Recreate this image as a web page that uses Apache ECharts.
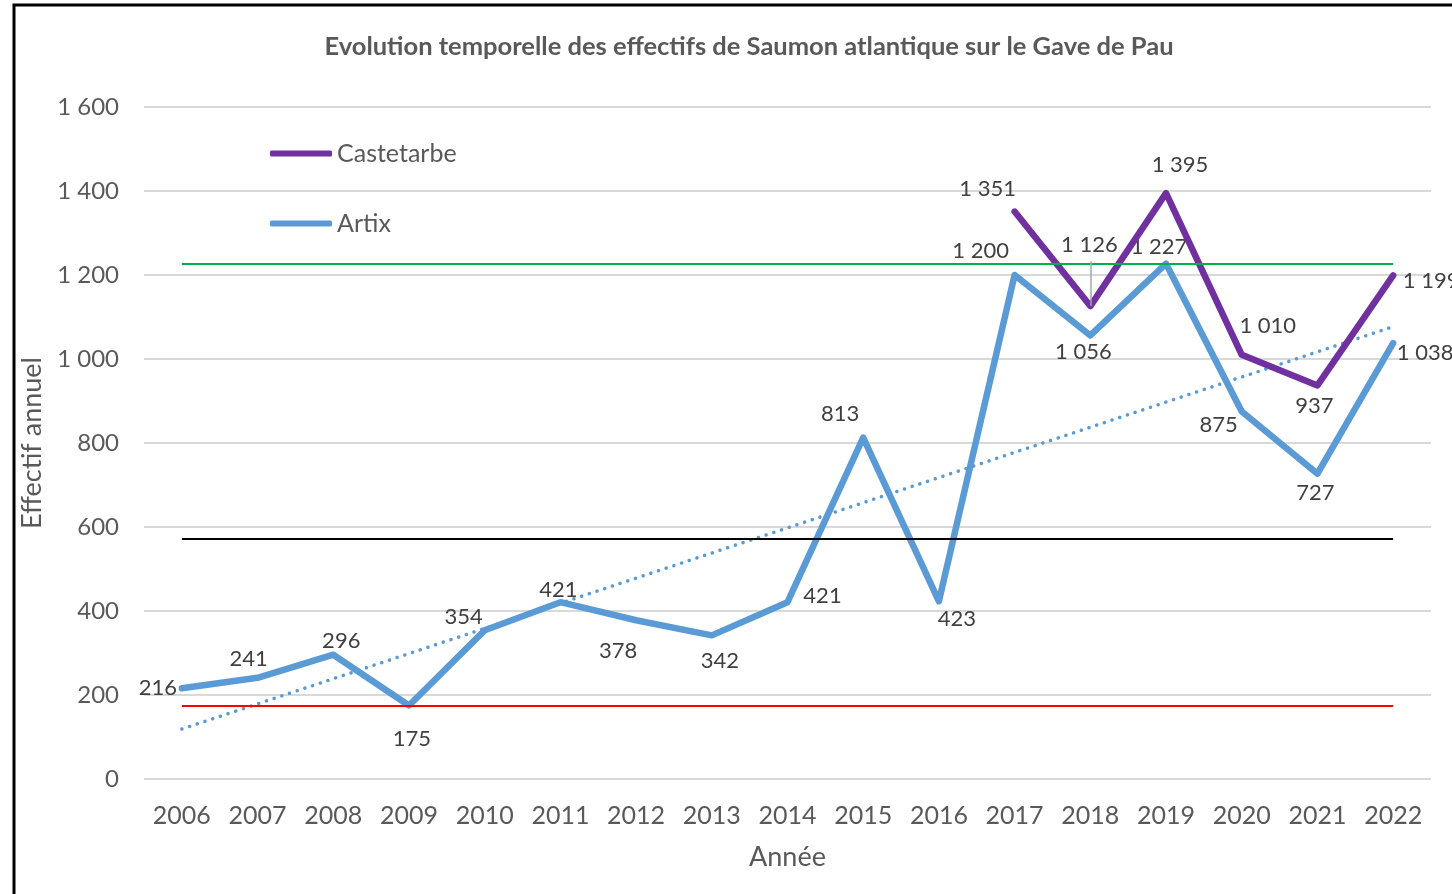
<!DOCTYPE html>
<html>
<head>
<meta charset="utf-8">
<script src="https://cdn.jsdelivr.net/npm/echarts@6/dist/echarts.min.js"></script>
<style>
  html, body { margin: 0; padding: 0; background: #fff; }
  #chart { width: 1452px; height: 894px; }
</style>
</head>
<body>
<div id="chart"></div>
<script>
// données
var years = ['2006', '2007', '2008', '2009', '2010', '2011', '2012', '2013', '2014',
  '2015', '2016', '2017', '2018', '2019', '2020', '2021', '2022'];
var artix = [216, 241, 296, 175, 354, 421, 378, 342, 421, 813, 423, 1200, 1056, 1227, 875, 727, 1038];
var castetarbe = [null, null, null, null, null, null, null, null, null, null, null,
  1351, 1126, 1395, 1010, 937, 1199];
// tendance linéaire (Artix) : valeurs aux extrémités
var trendStart = 119;
var trendEnd = 1077;
// lignes horizontales de référence
var refValues = [1227, 572, 175];
var refColors = ['#00B050', '#000000', '#FF0000'];
var yTicks = [0, 200, 400, 600, 800, 1000, 1200, 1400, 1600];

// décalages des étiquettes (px, par rapport au point)
var artixOffsets = [[-24, 0], [-9, -19], [8, -14], [3, 33], [-21, -13], [-2, -12], [-18, 31], [8, 26],
  [35, -6], [-23, -24], [18, 18], [-34, -24], [-7, 16], [-7, -17], [-23, 13], [-2, 19], [32, 10]];
var castOffsets = [[-27, -23], [-1, -61], [14, -28], [26, -29], [-3, 20], [38, 5]];

function fmt(v) {
  return String(v).replace(/\B(?=(\d{3})+(?!\d))/g, ' ');
}

var FONT = 'Lato';
var TXT = '#595959';

var trendData = years.map(function (y, i) {
  if (i === 0) return trendStart;
  if (i === years.length - 1) return trendEnd;
  return null;
});

var artixData = artix.map(function (v, i) {
  return { value: v, label: { offset: artixOffsets[i] } };
});
var ci = 0;
var castData = castetarbe.map(function (v) {
  if (v == null) return null;
  var o = castOffsets[ci++];
  return { value: v, label: { offset: o } };
});

var refMark = refValues.map(function (v, i) {
  return [
    { coord: [years[0], v], lineStyle: { color: refColors[i], width: 2, type: 'solid' } },
    { coord: [years[years.length - 1], v] }
  ];
});

var chart = echarts.init(document.getElementById('chart'));
var option = {
  backgroundColor: '#fff',
  animation: false,
  textStyle: { fontFamily: FONT },
  title: {
    text: 'Evolution temporelle des effectifs de Saumon atlantique sur le Gave de Pau',
    left: 744,
    top: 29,
    textAlign: 'center',
    textStyle: { fontFamily: FONT, fontWeight: 'bold', fontSize: 25.5, color: TXT }
  },
  legend: {
    data: ['Castetarbe', 'Artix'],
    orient: 'vertical',
    left: 265,
    top: 136,
    itemWidth: 62,
    itemHeight: 6,
    itemGap: 45,
    icon: 'roundRect',
    textStyle: { fontFamily: FONT, fontSize: 25, color: TXT }
  },
  grid: { left: 144, right: 21, top: 107, bottom: 115 },
  xAxis: {
    type: 'category',
    data: years,
    boundaryGap: true,
    name: 'Année',
    nameLocation: 'middle',
    nameGap: 65,
    nameTextStyle: { fontFamily: FONT, fontSize: 27, color: TXT, verticalAlign: 'top' },
    axisLine: { show: false },
    axisTick: { show: false },
    axisLabel: { fontFamily: FONT, fontSize: 25, color: TXT, margin: 24 }
  },
  yAxis: {
    type: 'value',
    min: yTicks[0],
    max: yTicks[yTicks.length - 1],
    interval: 200,
    name: 'Effectif annuel',
    nameLocation: 'middle',
    nameGap: 89,
    nameTextStyle: { fontFamily: FONT, fontSize: 27, color: TXT },
    axisLine: { show: false },
    axisTick: { show: false },
    axisLabel: { fontFamily: FONT, fontSize: 24, color: TXT, margin: 25, formatter: fmt },
    splitLine: { lineStyle: { color: '#D9D9D9', width: 2 } }
  },
  graphic: [{
    type: 'rect',
    shape: { x: 14, y: 5, width: 1600, height: 1000 },
    style: { fill: null, stroke: '#000', lineWidth: 3 },
    silent: true
  }],
  series: [
    {
      name: 'ref',
      type: 'line',
      data: [],
      z: 1,
      markLine: {
        silent: true,
        symbol: 'none',
        label: { show: false },
        data: refMark
      }
    },
    {
      name: 'Tendance',
      type: 'line',
      data: trendData,
      connectNulls: true,
      symbol: 'none',
      z: 2,
      lineStyle: { color: '#5B9BD5', width: 3.5, type: [0.1, 8], cap: 'round' }
    },
    {
      name: 'Artix',
      type: 'line',
      data: artixData,
      symbol: 'circle',
      symbolSize: 2,
      z: 3,
      color: '#5B9BD5',
      lineStyle: { color: '#5B9BD5', width: 6.5, cap: 'round', join: 'round' },
      itemStyle: { color: '#5B9BD5' },
      label: {
        show: true,
        position: 'inside',
        fontFamily: FONT,
        fontSize: 22,
        color: '#404040',
        formatter: function (p) { return fmt(p.value); }
      }
    },
    {
      name: 'Castetarbe',
      type: 'line',
      data: castData,
      symbol: 'circle',
      symbolSize: 2,
      z: 4,
      color: '#7030A0',
      lineStyle: { color: '#7030A0', width: 6.5, cap: 'round', join: 'round' },
      itemStyle: { color: '#7030A0' },
      label: {
        show: true,
        position: 'inside',
        fontFamily: FONT,
        fontSize: 22,
        color: '#404040',
        formatter: function (p) { return fmt(p.value); }
      },
      markLine: {
        silent: true,
        symbol: 'none',
        label: { show: false },
        lineStyle: { color: '#A6A6A6', width: 1.5, type: 'solid' },
        data: [[{ coord: [years[12], castetarbe[12]] }, { coord: [years[12], 1232] }]]
      }
    }
  ]
};
chart.setOption(option);
</script>
</body>
</html>
